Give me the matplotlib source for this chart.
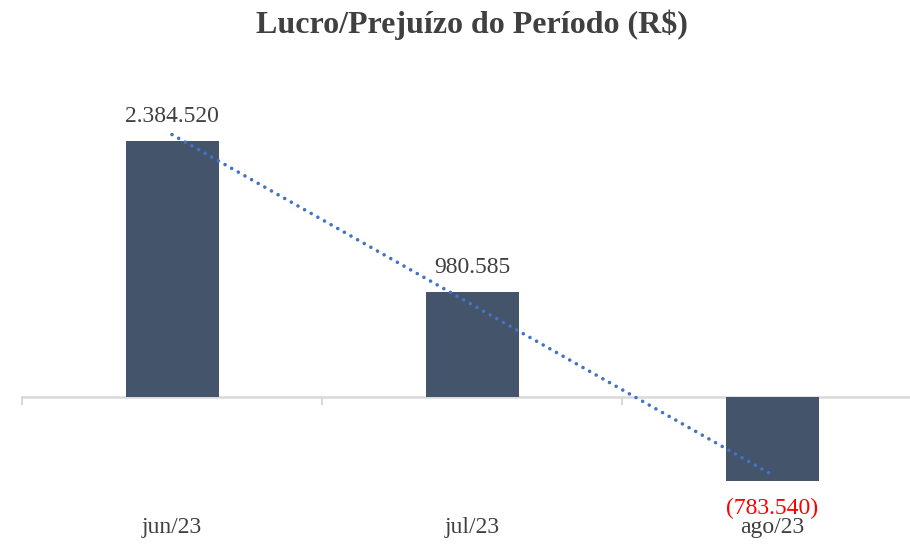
import numpy as np
import matplotlib
matplotlib.use('Agg')
import matplotlib.pyplot as plt

# data
categories = ['jun/23', 'jul/23', 'ago/23']
values = [2384520, 980585, -783540]
value_labels = ['2.384.520', '980.585', '(783.540)']

BAR = '#44546A'
TREND = '#4472C4'
AXIS = '#D9D9D9'
TEXT = '#404040'

plt.rcParams['font.family'] = ['Liberation Serif', 'DejaVu Serif']

fig = plt.figure(figsize=(9.1, 5.44), dpi=100, facecolor='white')
W, H = 910, 544
# axes in pixel terms: x 22..922, y 80..500 (top..bottom)
ax = fig.add_axes([22 / W, (H - 500) / H, 900 / W, 420 / H])

x = np.arange(len(categories))
ax.bar(x, values, width=0.31, color=BAR, zorder=2)

# linear trendline
k, b = np.polyfit(x, values, 1)
ax.plot(x, k * x + b, linestyle=(0, (0.01, 2.1)), color=TREND, linewidth=2.6,
        zorder=3, dash_capstyle='round')

per_px = 2384520 / 256.0
ax.set_xlim(-0.5, 2.5)
ax.set_ylim(-(500 - 397) * per_px, (397 - 80) * per_px)

ax.axhline(0, color=AXIS, linewidth=1.8, zorder=1)
for xb in [-0.5, 0.5, 1.5]:
    ax.plot([xb, xb], [0, -7 * per_px], color=AXIS, linewidth=1.5, zorder=1,
            clip_on=False)

for s in ax.spines.values():
    s.set_visible(False)
ax.set_xticks([])
ax.set_yticks([])

# value labels
for xi, v, lab in zip(x, values, value_labels):
    if v >= 0:
        ax.text(xi, v + 24 * per_px, lab, ha='center', va='center',
                fontsize=17, color=TEXT)
    else:
        ax.text(xi, v - 27 * per_px, lab, ha='center', va='center',
                fontsize=17, color='#FF0000')

# category labels at the bottom
for xi, c in zip(x, categories):
    fig.text((22 + 150 + 300 * xi) / W, 1 - 528 / H, c, ha='center',
             va='center', fontsize=17, color=TEXT)

fig.text(472 / W, 1 - 25 / H, 'Lucro/Prejuízo do Período (R$)',
         ha='center', va='center', fontsize=23, fontweight='bold',
         color=TEXT)

fig.savefig('out.png', dpi=100, facecolor='white')
